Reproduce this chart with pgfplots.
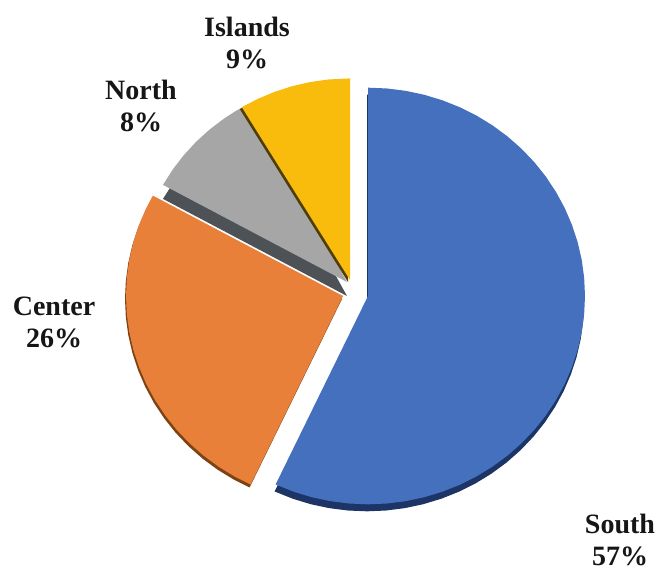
\documentclass[border=0pt]{standalone}
\usepackage{pgfplots}
\usepackage{pgfplotstable}
\usepackage{fontspec}
\setmainfont{Liberation Serif}
\pgfplotsset{compat=1.18}

% slices as (angle, radius), angle counted from the x axis
\pgfplotstableread{
a r
0 0
90 217
85 217
80 217
75 217
70 217
65 217
60 217
55 217
50 217
45 217
40 217
35 217
30 217
25 217
20 217
15 217
10 217
5 217
0 217
-5 217
-10 217
-15 217
-20 217
-25 217
-30 217
-35 217
-40 217
-45 217
-50 217
-55 217
-60 217
-65 217
-70 217
-75 217
-80 217
-85 217
-90 217
-95 217
-100 217
-105 217
-110 217
-115.2 217
}\south
\pgfplotstableread{
a r
0 0
244.8 217
240 217
235 217
230 217
225 217
220 217
215 217
210 217
205 217
200 217
195 217
190 217
185 217
180 217
175 217
170 217
165 217
160 217
155 217
151.2 217
}\center
\pgfplotstableread{
a r
0 0
151.2 210
146 210
141 210
136 210
131 210
126 210
122 210
118 210
}\north
\pgfplotstableread{
a r
0 0
121 210
116 210
111 210
106 210
101 210
96 210
90 210
}\islands

\definecolor{cS}{HTML}{4470BD}
\definecolor{cSd}{HTML}{1C3566}
\definecolor{cC}{HTML}{E8803A}
\definecolor{cCd}{HTML}{7E4315}
\definecolor{cN}{HTML}{A6A6A6}
\definecolor{cNd}{HTML}{4D5257}
\definecolor{cI}{HTML}{F9BC0D}
\definecolor{cId}{HTML}{4F3E08}
\definecolor{labcol}{HTML}{161616}
\tikzset{pielab/.style={font=\fontsize{28}{32}\selectfont\bfseries, align=center, text=labcol, inner sep=0pt}}

\begin{document}
\begin{tikzpicture}
\begin{axis}[
  scale only axis,
  width=660pt, height=571pt,
  xmin=-368, xmax=292,
  ymin=-286.46, ymax=308.33,
  hide axis,
  clip=false,
]
% hidden axis adds nothing to the page size
\path (axis cs:-368,-286.46) rectangle (axis cs:292,308.33);
% north
\addplot[draw=none, fill=cNd, data cs=polar, no markers, xshift=-21pt, yshift=0pt] table[x=a, y=r] {\north};
\addplot[draw=none, fill=cN, data cs=polar, no markers, xshift=-21pt, yshift=14pt] table[x=a, y=r] {\north};
% islands
\addplot[draw=none, fill=cId, data cs=polar, no markers, xshift=-20pt, yshift=14pt] table[x=a, y=r] {\islands};
\addplot[draw=none, fill=cI, data cs=polar, no markers, xshift=-18pt, yshift=16pt] table[x=a, y=r] {\islands};
% center
\addplot[draw=none, fill=cCd, data cs=polar, no markers, xshift=-26pt, yshift=-3pt] table[x=a, y=r] {\center};
\addplot[draw=none, fill=cC, data cs=polar, no markers, xshift=-25pt, yshift=0pt] table[x=a, y=r] {\center};
% south
\addplot[draw=none, fill=cSd, data cs=polar, no markers, xshift=-1pt, yshift=-7pt] table[x=a, y=r] {\south};
\addplot[draw=none, fill=cS, data cs=polar, no markers] table[x=a, y=r] {\south};

\node[pielab] at (axis cs:-121,264) {Islands\\9\%};
\node[pielab] at (axis cs:-227,198.4) {North\\8\%};
\node[pielab] at (axis cs:-314,-28) {Center\\26\%};
\node[pielab] at (axis cs:252,-254) {South\\57\%};
\end{axis}
\end{tikzpicture}
\end{document}
